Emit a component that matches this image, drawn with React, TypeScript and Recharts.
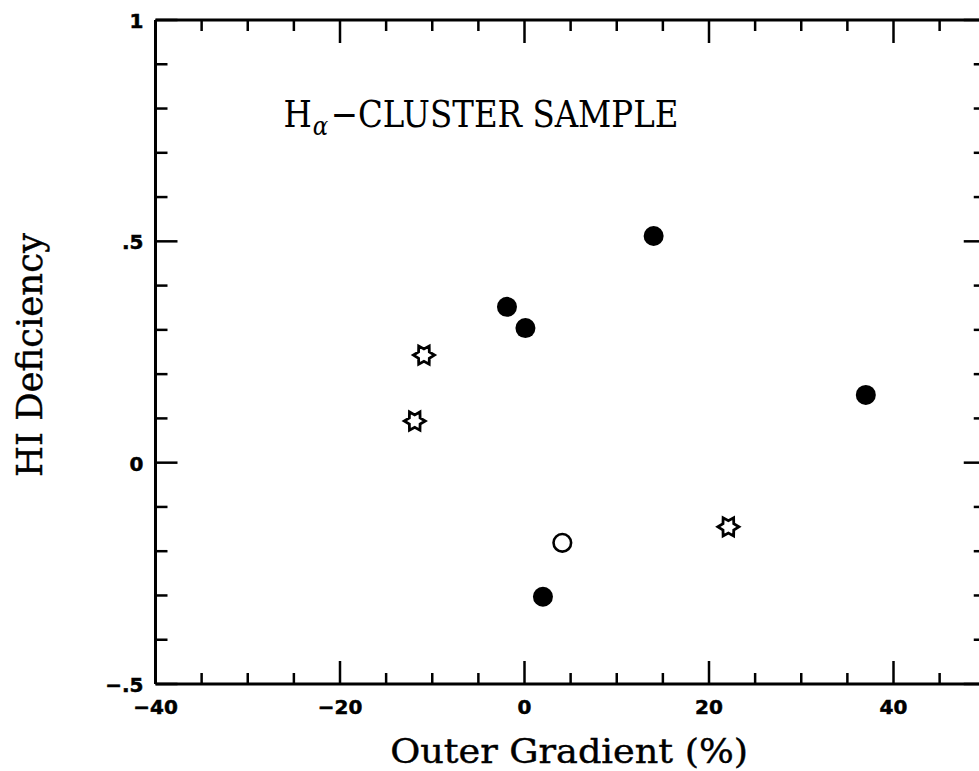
import React from 'react';
import { ScatterChart, Scatter, XAxis, YAxis, Label } from 'recharts';

// Filled circles
const filledX = [-1.9, 0.1, 14.0, 37.0, 2.0];
const filledY = [0.352, 0.304, 0.512, 0.153, -0.303];
// Open circle
const openX = [4.1];
const openY = [-0.181];
// Stars
const starX = [-10.9, -11.9, 22.1];
const starY = [0.243, 0.094, -0.145];

const xTicks = [-40, -35, -30, -25, -20, -15, -10, -5, 0, 5, 10, 15, 20, 25, 30, 35, 40, 45, 50];
const xTickLabels: Record<string, string> = { '-40': '−40', '-20': '−20', '0': '0', '20': '20', '40': '40' };
const yTicks = [-0.5, -0.4, -0.3, -0.2, -0.1, 0, 0.1, 0.2, 0.3, 0.4, 0.5, 0.6, 0.7, 0.8, 0.9, 1];
const yTickLabels: Record<string, string> = { '-0.5': '−.5', '0': '0', '0.5': '.5', '1': '1' };

const titleMain = 'H';
const titleSub = 'α';
const titleRest = '−CLUSTER SAMPLE';
const xLabel = 'Outer Gradient (%)';
const yLabel = 'HI Deficiency';

const zip = (xs: number[], ys: number[]) => xs.map((x, i) => ({ x, y: ys[i] }));
const filledData = zip(filledX, filledY);
const openData = zip(openX, openY);
const starData = zip(starX, starY);

const isMajorX = (v: number) => Math.abs(v % 20) < 1e-6;
const isMajorY = (v: number) => Math.abs(v * 2 - Math.round(v * 2)) < 1e-6;

const tickFont = {
  fontFamily: 'DejaVu Sans',
  fontWeight: 700,
  fontSize: 20,
  fill: '#000',
  stroke: '#000',
  strokeWidth: 0.5,
};

const BottomTick = (props: any) => {
  const { x, y, payload } = props;
  const v = payload.value;
  const len = isMajorX(v) ? 23 : 11;
  const lbl = xTickLabels[String(v)];
  return (
    <g>
      <line x1={x} x2={x} y1={y} y2={y - len} stroke="#000" strokeWidth={2.5} />
      {lbl !== undefined && (
        <text x={x} y={y + 30} textAnchor="middle" {...tickFont}>{lbl}</text>
      )}
    </g>
  );
};

const TopTick = (props: any) => {
  const { x, y, payload } = props;
  const len = isMajorX(payload.value) ? 23 : 11;
  return <line x1={x} x2={x} y1={y} y2={y + len} stroke="#000" strokeWidth={2.5} />;
};

const LeftTick = (props: any) => {
  const { x, y, payload } = props;
  const v = payload.value;
  const len = isMajorY(v) ? 22 : 12;
  const lbl = yTickLabels[String(v)];
  return (
    <g>
      <line x1={x} x2={x + len} y1={y} y2={y} stroke="#000" strokeWidth={2.5} />
      {lbl !== undefined && (
        <text x={x - 12} y={y + 8} textAnchor="end" {...tickFont}>{lbl}</text>
      )}
    </g>
  );
};

const RightTick = (props: any) => {
  const { x, y, payload } = props;
  const len = isMajorY(payload.value) ? 22 : 12;
  return <line x1={x} x2={x - len} y1={y} y2={y} stroke="#000" strokeWidth={2.5} />;
};

const FilledDot = (props: any) => <circle cx={props.cx} cy={props.cy} r={10} fill="#000" />;
const OpenDot = (props: any) => (
  <circle cx={props.cx} cy={props.cy} r={8.8} fill="#fff" stroke="#000" strokeWidth={2.6} />
);
const StarDot = (props: any) => {
  const { cx, cy } = props;
  const R = 10.5;
  const r = 6.2;
  const pts: string[] = [];
  for (let k = 0; k < 12; k++) {
    const a = (k * Math.PI) / 6;
    const rad = k % 2 === 0 ? R : r;
    pts.push(`${cx + rad * Math.cos(a)},${cy + rad * Math.sin(a)}`);
  }
  return <polygon points={pts.join(' ')} fill="#fff" stroke="#000" strokeWidth={2.8} strokeLinejoin="miter" />;
};

const TitleLabel = (props: any) => {
  const vb = props.viewBox || { x: 155, y: 19 };
  return (
    <text
      x={vb.x + 128}
      y={vb.y + 108}
      fontFamily="DejaVu Serif"
      fontSize={37}
      fill="#000"
      textLength={395}
      lengthAdjust="spacingAndGlyphs"
    >
      <tspan>{titleMain}</tspan>
      <tspan fontSize={26} fontStyle="italic" dy={8} dx={1}>{titleSub}</tspan>
      <tspan dy={-8} dx={3}>{titleRest}</tspan>
    </text>
  );
};

const XAxisLabel = (props: any) => {
  const vb = props.viewBox || { x: 155, y: 684, width: 830 };
  return (
    <text
      x={vb.x + vb.width / 2 - 1.5}
      y={vb.y + 79}
      textAnchor="middle"
      fontFamily="DejaVu Serif"
      fontSize={33}
      fill="#000"
      stroke="#000"
      strokeWidth={0.4}
      textLength={358}
      lengthAdjust="spacingAndGlyphs"
    >
      {xLabel}
    </text>
  );
};

const YAxisLabel = (props: any) => {
  const vb = props.viewBox || { x: 154.5, y: 20, height: 664 };
  const cx = vb.x - 112.5;
  const cy = vb.y + vb.height / 2 + 3;
  return (
    <text
      x={cx}
      y={cy}
      transform={`rotate(-90, ${cx}, ${cy})`}
      textAnchor="middle"
      fontFamily="DejaVu Serif"
      fontSize={35}
      fill="#000"
      stroke="#000"
      strokeWidth={0.4}
      textLength={244}
      lengthAdjust="spacingAndGlyphs"
    >
      {yLabel}
    </text>
  );
};

export default function App() {
  return (
    <div style={{ position: 'absolute', left: 0, top: 0, width: 979, height: 771, background: '#fff' }}>
      <ScatterChart
        width={979}
        height={771}
        margin={{ top: 19, right: -7.75, bottom: 86, left: 154.5 }}
      >
        <XAxis
          xAxisId="bottom"
          type="number"
          dataKey="x"
          domain={[-40, 50]}
          ticks={xTicks}
          interval={0}
          allowDataOverflow
          height={1}
          tickSize={0}
          tickMargin={0}
          tickLine={false}
          tick={BottomTick}
          axisLine={{ stroke: '#000', strokeWidth: 3 }}
        >
          <Label content={XAxisLabel} />
        </XAxis>
        <XAxis
          xAxisId="top"
          orientation="top"
          type="number"
          dataKey="x"
          domain={[-40, 50]}
          ticks={xTicks}
          interval={0}
          allowDataOverflow
          height={1}
          tickSize={0}
          tickMargin={0}
          tickLine={false}
          tick={TopTick}
          axisLine={{ stroke: '#000', strokeWidth: 3 }}
        >
          <Label content={TitleLabel} />
        </XAxis>
        <YAxis
          yAxisId="left"
          type="number"
          dataKey="y"
          domain={[-0.5, 1]}
          ticks={yTicks}
          interval={0}
          allowDataOverflow
          width={1}
          tickSize={0}
          tickMargin={0}
          tickLine={false}
          tick={LeftTick}
          axisLine={{ stroke: '#000', strokeWidth: 3 }}
        >
          <Label content={YAxisLabel} />
        </YAxis>
        <YAxis
          yAxisId="right"
          orientation="right"
          type="number"
          dataKey="y"
          domain={[-0.5, 1]}
          ticks={yTicks}
          interval={0}
          allowDataOverflow
          width={1}
          tickSize={0}
          tickMargin={0}
          tickLine={false}
          tick={RightTick}
          axisLine={{ stroke: '#000', strokeWidth: 3 }}
        />
        <Scatter xAxisId="bottom" yAxisId="left" data={filledData} shape={FilledDot} isAnimationActive={false} />
        <Scatter xAxisId="bottom" yAxisId="left" data={openData} shape={OpenDot} isAnimationActive={false} />
        <Scatter xAxisId="bottom" yAxisId="left" data={starData} shape={StarDot} isAnimationActive={false} />
      </ScatterChart>
    </div>
  );
}
